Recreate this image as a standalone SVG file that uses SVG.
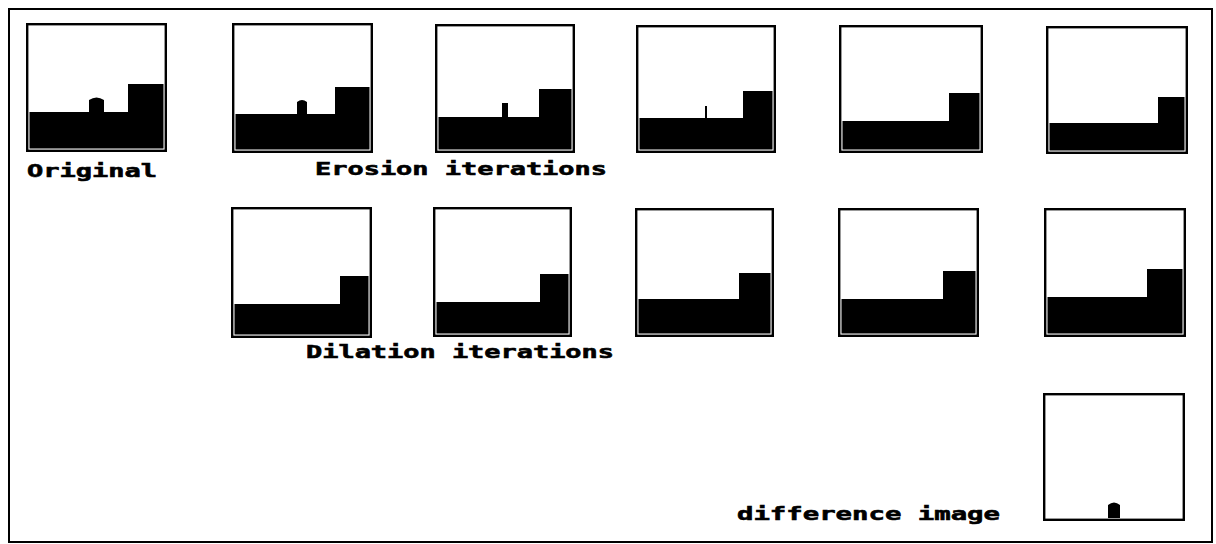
<svg xmlns="http://www.w3.org/2000/svg" width="1216" height="544" viewBox="0 0 1216 544">
<style>
.frame{fill:#fff;stroke:#000;stroke-width:2.4}
.img{fill:#000;stroke:none}
.lbl{font-family:"DejaVu Sans Mono","Liberation Mono",monospace;font-weight:bold;font-size:18.5px;fill:#000;stroke:#000;stroke-width:0.6}
</style>
<rect x="0" y="0" width="1216" height="544" fill="#fff"/>
<rect id="border" x="9" y="9" width="1203" height="533" fill="none" stroke="#000" stroke-width="2"/>

<g id="original">
<rect class="frame" x="27.2" y="24.2" width="138.6" height="126.6"/>
<path class="img" d="M29.5,148.5 V112 H89 V100 Q96.5,95 104,100 V112 H128 V84 H163.5 V148.5 Z"/>
</g>
<g id="erosion1">
<rect class="frame" x="233.2" y="24.2" width="138.6" height="127.6"/>
<path class="img" d="M235.5,149.5 V114 H297 V102 Q302,98 307,102 V114 H335 V87 H369.5 V149.5 Z"/>
</g>
<g id="erosion2">
<rect class="frame" x="436.2" y="25.2" width="137.6" height="126.6"/>
<path class="img" d="M438.5,149.5 V117 H502 V103 H508 V117 H539 V89 H571.5 V149.5 Z"/>
</g>
<g id="erosion3">
<rect class="frame" x="637.2" y="26.2" width="137.6" height="125.6"/>
<path class="img" d="M639.5,149.5 V118 H705 V106 H707 V118 H743 V91 H772.5 V149.5 Z"/>
</g>
<g id="erosion4">
<rect class="frame" x="840.2" y="26.2" width="141.6" height="125.6"/>
<path class="img" d="M842.5,149.5 V121 H949 V93 H979.5 V149.5 Z"/>
</g>
<g id="erosion5">
<rect class="frame" x="1047.2" y="27.2" width="139.6" height="125.6"/>
<path class="img" d="M1049.5,150.5 V123 H1158 V97 H1184.5 V150.5 Z"/>
</g>

<g id="dilation1">
<rect class="frame" x="232.2" y="208.2" width="138.6" height="128.6"/>
<path class="img" d="M234.5,334.5 V304 H340 V276 H368.5 V334.5 Z"/>
</g>
<g id="dilation2">
<rect class="frame" x="434.2" y="208.2" width="136.6" height="127.6"/>
<path class="img" d="M436.5,333.5 V302 H540 V274 H568.5 V333.5 Z"/>
</g>
<g id="dilation3">
<rect class="frame" x="636.2" y="209.2" width="136.6" height="126.6"/>
<path class="img" d="M638.5,333.5 V299 H739 V273 H770.5 V333.5 Z"/>
</g>
<g id="dilation4">
<rect class="frame" x="839.2" y="209.2" width="138.6" height="126.6"/>
<path class="img" d="M841.5,333.5 V299 H943 V271 H975.5 V333.5 Z"/>
</g>
<g id="dilation5">
<rect class="frame" x="1045.2" y="209.2" width="139.6" height="126.6"/>
<path class="img" d="M1047.5,333.5 V297 H1147 V269 H1182.5 V333.5 Z"/>
</g>

<g id="difference">
<rect class="frame" x="1044.2" y="394.2" width="139.6" height="125.6"/>
<path class="img" d="M1108,518 V505 Q1114,500 1120,505 V518 Z"/>
</g>

<g id="labels">
<text class="lbl" x="27" y="177" textLength="130" lengthAdjust="spacingAndGlyphs">Original</text>
<text class="lbl" x="315" y="175" textLength="292" lengthAdjust="spacingAndGlyphs">Erosion iterations</text>
<text class="lbl" x="306" y="358" textLength="308" lengthAdjust="spacingAndGlyphs">Dilation iterations</text>
<text class="lbl" x="737" y="520" textLength="263" lengthAdjust="spacingAndGlyphs">difference image</text>
</g>
</svg>
